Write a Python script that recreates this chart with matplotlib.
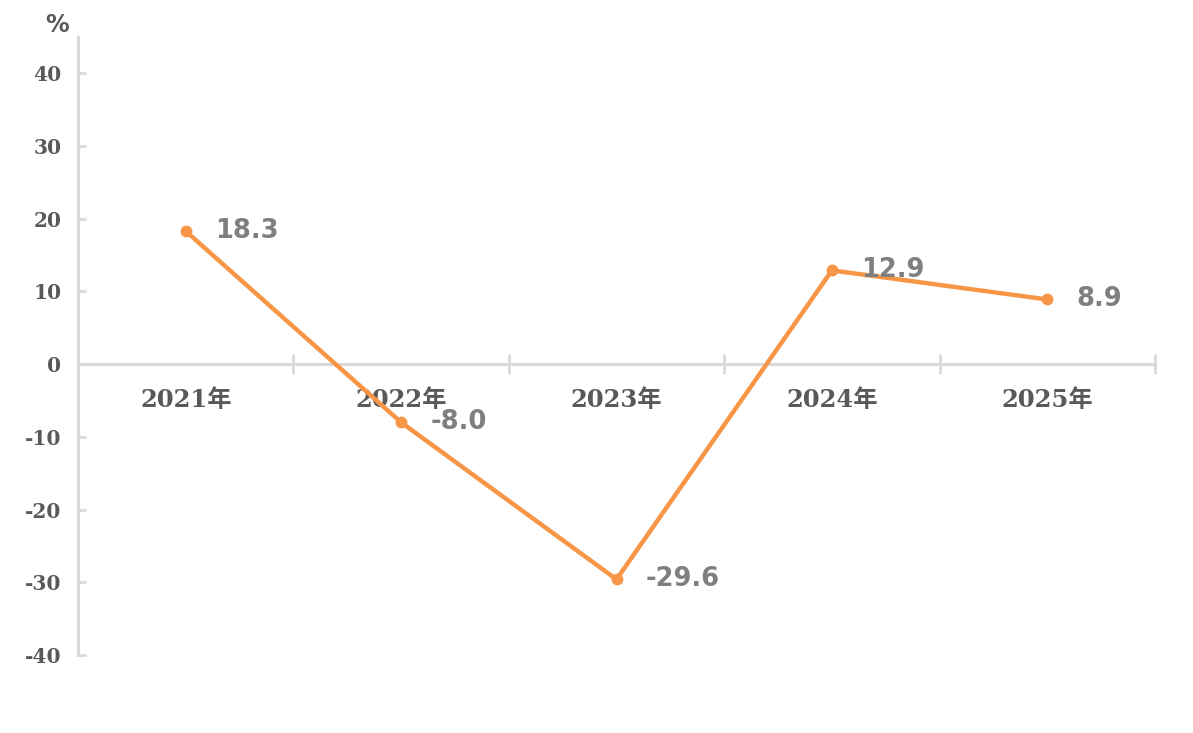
import matplotlib
matplotlib.use("Agg")
import matplotlib.pyplot as plt
from matplotlib.ticker import FixedLocator

# data
years = ["2021年", "2022年", "2023年", "2024年", "2025年"]
growth = [18.3, -8.0, -29.6, 12.9, 8.9]
y_ticks = [-40, -30, -20, -10, 0, 10, 20, 30, 40]

LINE_COLOR = "#F79646"
AXIS_COLOR = "#D9D9D9"
TICK_TEXT = "#595959"
LABEL_TEXT = "#7F7F7F"

fig = plt.figure(figsize=(11.93, 7.33), dpi=100)
ax = fig.add_axes([78 / 1193, 78 / 733, (1155 - 78) / 1193, (655 - 37) / 733])

x = list(range(len(years)))
ax.plot(x, growth, color=LINE_COLOR, linewidth=3.2, marker="o",
        markersize=7.5, solid_capstyle="round", zorder=3, clip_on=False)

for xi, v in zip(x, growth):
    ax.annotate(f"{v:.1f}", (xi, v), xytext=(21, 0), textcoords="offset points",
                ha="left", va="center", fontsize=18.5, fontweight="bold",
                color=LABEL_TEXT, family="DejaVu Sans", zorder=4)

ax.set_xlim(-0.5, len(years) - 0.5)
ax.set_ylim(-40, 45)

# spines
for side in ["top", "right"]:
    ax.spines[side].set_visible(False)
ax.spines["bottom"].set_position(("data", 0))
ax.spines["bottom"].set_color(AXIS_COLOR)
ax.spines["bottom"].set_linewidth(2.2)
ax.spines["left"].set_color(AXIS_COLOR)
ax.spines["left"].set_linewidth(2.2)
ax.spines["left"].set_bounds(-40, 45)

# y axis
ax.yaxis.set_major_locator(FixedLocator(y_ticks))
ax.set_yticklabels([str(t) for t in y_ticks])
ax.tick_params(axis="y", direction="in", length=6, width=2, color=AXIS_COLOR,
               pad=12, labelsize=14.5, labelcolor=TICK_TEXT)
for lab in ax.get_yticklabels():
    lab.set_family("DejaVu Serif")
    lab.set_fontweight("bold")

# x axis: labels at centres, tick marks at category boundaries
ax.set_xticks(x)
ax.set_xticklabels(years)
ax.set_xticks([i + 0.5 for i in range(len(years))], minor=True)
ax.tick_params(axis="x", which="major", length=0, pad=17, labelsize=17.5,
               labelcolor=TICK_TEXT)
ax.tick_params(axis="x", which="minor", direction="inout", length=14, width=2,
               color=AXIS_COLOR)
for lab in ax.get_xticklabels():
    lab.set_family(["DejaVu Serif", "Noto Sans CJK SC"])
    lab.set_fontweight("bold")

fig.text(57 / 1193, 1 - 25 / 733, "%", ha="center", va="center", fontsize=17,
         fontweight="bold", color=TICK_TEXT, family="DejaVu Sans")

fig.savefig("out.png", dpi=100)
